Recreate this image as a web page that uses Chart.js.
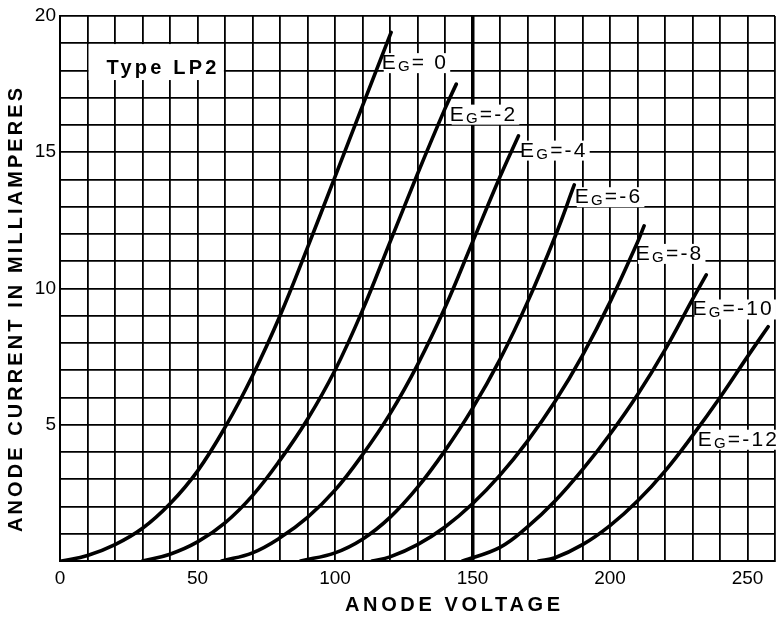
<!DOCTYPE html>
<html>
<head>
<meta charset="utf-8">
<script src="https://cdn.jsdelivr.net/npm/chart.js@4.4.0/dist/chart.umd.min.js"></script>
<style>
  html, body { margin: 0; padding: 0; background: #fff; }
  #wrap { width: 781px; height: 619px; }
</style>
</head>
<body>
<div id="wrap"><canvas id="plate-curves" width="781" height="619"></canvas></div>
<script>
// plate curves, anode volts vs anode mA
const eg0Volts  = [0.6, 10, 20, 30, 40, 50, 60, 70, 80, 90, 100, 110, 120.4];
const eg0Ma     = [0, 0.2, 0.6, 1.2, 2.1, 3.3, 4.9, 6.8, 9.0, 11.5, 14.1, 16.7, 19.4];

const eg2Volts  = [30, 40, 50, 60, 70, 80, 90, 100, 110, 120, 130, 140, 144.1];
const eg2Ma     = [0, 0.25, 0.7, 1.4, 2.4, 3.7, 5.2, 7.0, 9.2, 11.7, 14.2, 16.6, 17.5];

const eg4Volts  = [58.8, 70, 80, 90, 100, 110, 120, 130, 140, 150, 160, 166.7];
const eg4Ma     = [0, 0.3, 0.85, 1.6, 2.6, 3.9, 5.4, 7.2, 9.3, 11.7, 14.1, 15.6];

const eg6Volts  = [87.5, 100, 110, 120, 130, 140, 150, 160, 170, 180, 187];
const eg6Ma     = [0, 0.3, 0.8, 1.6, 2.7, 4.05, 5.6, 7.4, 9.5, 11.9, 13.8];

const eg8Volts  = [113.5, 120, 130, 140, 150, 160, 170, 180, 190, 200, 210, 212.4];
const eg8Ma     = [0, 0.15, 0.6, 1.25, 2.1, 3.15, 4.4, 5.85, 7.55, 9.5, 11.7, 12.3];

const eg10Volts = [146.4, 160, 170, 180, 190, 200, 210, 220, 230, 235];
const eg10Ma    = [0, 0.5, 1.25, 2.2, 3.35, 4.65, 6.1, 7.75, 9.6, 10.5];

const eg12Volts = [174, 180, 190, 200, 210, 220, 230, 240, 250, 257.5];
const eg12Ma    = [0, 0.12, 0.6, 1.3, 2.2, 3.3, 4.6, 6.0, 7.5, 8.6];

const gridBias  = ['= 0', '=-2', '=-4', '=-6', '=-8', '=-10', '=-12'];
const voltTicks = [0, 50, 100, 150, 200, 250];
const maTicks   = [5, 10, 15, 20];

const curves = [
    [eg0Volts, eg0Ma], [eg2Volts, eg2Ma], [eg4Volts, eg4Ma], [eg6Volts, eg6Ma],
    [eg8Volts, eg8Ma], [eg10Volts, eg10Ma], [eg12Volts, eg12Ma]
];

// where each E_G tag sits (left edge of the E, on its baseline), in volts / mA
const tagSpots = [[117, 18.05], [141.7, 16.16], [167.3, 14.84], [187.2, 13.13], [209.4, 11.05], [230, 9.01], [231.9, 4.23]];

const FONT = '"Liberation Sans", Arial, sans-serif';
const TAG_GAP = 2.2;

function tagWidth(ctx, bias) {
    ctx.letterSpacing = '0px';
    ctx.font = `21px ${FONT}`;
    const e = ctx.measureText('E').width + TAG_GAP;
    const rest = ctx.measureText(bias).width + TAG_GAP * bias.length;
    ctx.font = `15px ${FONT}`;
    const g = ctx.measureText('G').width + TAG_GAP;
    return { e, g, rest, total: e + g + rest };
}

function spacedText(ctx, text, x, y, target) {
    ctx.letterSpacing = '0px';
    const w = ctx.measureText(text).width;
    const gap = Math.max(0, (target - w) / (text.length - 1));
    ctx.letterSpacing = gap + 'px';
    ctx.fillText(text, x, y);
    ctx.letterSpacing = '0px';
}

const sheetText = {
    id: 'sheetText',
    beforeDatasetsDraw(chart) {
        const { ctx, scales: { x, y } } = chart;
        ctx.save();
        ctx.fillStyle = '#fff';
        // blank patch behind the tube type
        const l = x.getPixelForValue(10.4), r = x.getPixelForValue(59.6);
        const t = y.getPixelForValue(18.97), b = y.getPixelForValue(17.65);
        ctx.fillRect(l, t, r - l, b - t);
        tagSpots.forEach((spot, i) => {
            const px = x.getPixelForValue(spot[0]);
            const py = y.getPixelForValue(spot[1]);
            const m = tagWidth(ctx, gridBias[i]);
            ctx.fillStyle = '#fff';
            ctx.fillRect(px + 2, py - 16, m.total, 20);
        });
        ctx.restore();
    },
    afterDatasetsDraw(chart) {
        const { ctx, scales: { x, y } } = chart;
        ctx.save();
        ctx.fillStyle = '#000';
        ctx.textBaseline = 'alphabetic';
        ctx.textAlign = 'left';

        ctx.font = `bold 20px ${FONT}`;
        spacedText(ctx, 'Type LP2', x.getPixelForValue(16.9), y.getPixelForValue(17.86), 110);

        tagSpots.forEach((spot, i) => {
            const px = x.getPixelForValue(spot[0]);
            const py = y.getPixelForValue(spot[1]);
            const m = tagWidth(ctx, gridBias[i]);
            ctx.letterSpacing = TAG_GAP + 'px';
            ctx.font = `21px ${FONT}`;
            ctx.fillText('E', px, py);
            ctx.font = `15px ${FONT}`;
            ctx.fillText('G', px + m.e, py + 2);
            ctx.font = `21px ${FONT}`;
            ctx.fillText(gridBias[i], px + m.e + m.g, py);
            ctx.letterSpacing = '0px';
        });

        // axis titles
        ctx.font = `bold 20px ${FONT}`;
        ctx.textBaseline = 'middle';
        spacedText(ctx, 'ANODE VOLTAGE', 345, 605, 215);

        ctx.translate(16, 532);
        ctx.rotate(-Math.PI / 2);
        spacedText(ctx, 'ANODE CURRENT IN MILLIAMPERES', 0, 0, 444);
        ctx.restore();
    }
};

const ctx = document.getElementById('plate-curves').getContext('2d');
new Chart(ctx, {
    type: 'scatter',
    data: {
        datasets: curves.map((c, i) => ({
            label: 'EG' + gridBias[i],
            data: c[0].map((v, k) => ({ x: v, y: c[1][k] })),
            showLine: true,
            borderColor: '#000',
            borderWidth: 3.6,
            borderCapStyle: 'round',
            pointRadius: 0,
            tension: 0.4,
            fill: false
        }))
    },
    options: {
        responsive: false,
        animation: false,
        layout: { padding: { top: 16, right: 5, left: 0, bottom: 0 } },
        plugins: {
            legend: { display: false },
            tooltip: { enabled: false }
        },
        scales: {
            x: {
                type: 'linear',
                min: 0,
                max: 260,
                afterFit(scale) { scale.height = 58; },
                border: { display: true, color: '#000', width: 2 },
                grid: {
                    color: '#000',
                    drawTicks: false,
                    lineWidth: c => (c.tick && c.tick.value === 150 ? 3.5 : 1.8)
                },
                ticks: {
                    stepSize: 10,
                    autoSkip: false,
                    maxRotation: 0,
                    padding: 6,
                    color: '#000',
                    font: { family: FONT, size: 19 },
                    callback: v => (voltTicks.includes(v) ? String(v) : '')
                }
            },
            y: {
                type: 'linear',
                min: 0,
                max: 20,
                afterFit(scale) { scale.width = 60; },
                border: { display: true, color: '#000', width: 2 },
                grid: { color: '#000', drawTicks: false, lineWidth: 1.8 },
                ticks: {
                    stepSize: 1,
                    autoSkip: false,
                    padding: 4,
                    color: '#000',
                    font: { family: FONT, size: 19 },
                    callback: v => (maTicks.includes(v) ? String(v) : '')
                }
            }
        }
    },
    plugins: [sheetText]
});
</script>
</body>
</html>
